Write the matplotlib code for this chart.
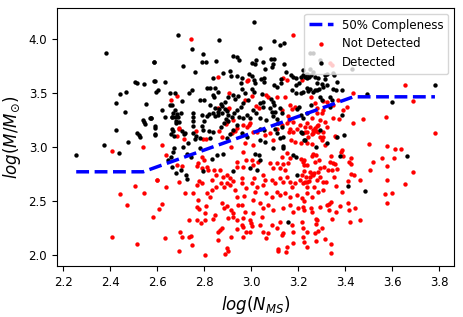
import matplotlib
matplotlib.use("Agg")
import matplotlib.pyplot as plt
import numpy as np

# 50% completeness curve (vertices)
comp_x = [2.255, 2.54, 3.435, 3.782]
comp_y = [2.771, 2.771, 3.466, 3.466]

# detected clusters (log N_MS, log M)
detected = [
    (2.38, 3.87), (2.585, 3.79), (2.504, 3.60), (2.512, 3.595), (2.545, 3.583), (2.587, 3.614),
    (2.594, 3.512), (2.604, 3.528), (2.44, 3.488), (2.467, 3.506), (2.424, 3.405), (2.551, 3.395),
    (2.461, 3.327), (2.572, 3.266), (2.54, 3.25), (2.543, 3.23), (2.546, 3.21), (2.589, 3.18),
    (2.425, 3.16), (2.512, 3.13), (2.523, 3.11), (2.528, 3.09), (2.592, 3.114),
    (2.255, 2.923), (2.374, 3.021), (2.437, 2.947), (2.477, 3.043),
    (3.663, 2.92), (3.414, 2.636), (3.483, 2.59), (3.377, 2.917), (3.324, 3.04), (3.275, 3.003),
    (3.224, 3.062), (3.365, 3.093), (3.393, 3.108), (3.211, 3.139), (3.292, 3.157),
    (2.708, 3.753), (2.79, 3.79), (2.806, 3.787), (2.85, 3.80), (2.909, 3.707), (2.915, 3.66),
    (2.94, 3.66), (2.761, 3.692), (2.836, 3.636), (2.59, 3.614), (2.633, 3.605), (2.653, 3.50),
    (2.736, 3.50), (2.748, 3.525), (2.81, 3.546), (2.824, 3.546), (2.847, 3.546), (2.857, 3.506),
    (2.836, 3.481), (2.841, 3.463), (2.78, 3.435), (2.80, 3.435), (2.90, 3.466), (2.888, 3.42),
    (2.923, 3.484), (2.929, 3.45), (2.943, 3.475), (2.654, 3.392), (2.661, 3.386), (2.621, 3.343),
    (2.575, 3.268), (2.59, 3.194), (2.591, 3.12), (2.751, 3.312), (2.751, 3.275), (2.753, 3.244),
    (2.751, 3.197), (2.79, 3.293), (2.80, 3.244), (2.789, 3.20), (2.796, 3.157), (2.706, 3.145),
    (2.714, 3.118), (2.658, 3.12), (2.672, 3.10), (2.821, 3.151), (2.836, 3.142), (2.824, 3.08),
    (2.782, 3.086), (2.761, 3.071), (2.729, 3.04), (2.711, 3.003), (2.671, 2.994), (2.782, 2.994),
    (2.824, 3.392), (2.87, 3.398), (2.875, 3.38), (2.864, 3.352), (2.847, 3.364), (2.857, 3.327),
    (2.836, 3.312), (2.821, 3.306), (2.81, 3.287), (2.847, 3.287), (2.86, 3.296), (2.874, 3.318),
    (2.887, 3.349), (2.898, 3.336), (2.902, 3.296), (2.892, 3.259), (2.87, 3.188), (2.884, 3.225),
    (2.901, 3.244), (2.917, 3.281), (2.926, 3.318), (2.94, 3.343), (2.949, 3.281), (2.94, 3.201),
    (2.923, 3.157), (2.909, 3.118), (2.898, 3.08),
    (2.675, 3.343), (2.666, 3.312), (2.683, 3.306), (2.70, 3.312), (2.674, 3.275), (2.661, 3.275),
    (2.681, 3.244), (2.694, 3.231), (2.68, 3.22),
    (3.013, 4.164), (2.687, 4.043), (2.863, 3.997), (2.749, 3.905), (2.793, 3.861), (3.038, 3.917),
    (3.095, 3.981), (3.123, 3.95), (3.138, 3.966), (2.586, 3.79), (2.878, 3.688),
    (2.921, 3.843), (2.939, 3.837), (2.946, 3.806), (3.02, 3.803), (3.049, 3.79), (3.083, 3.815),
    (3.098, 3.815), (3.228, 3.651), (3.19, 3.636), (2.675, 3.503), (2.706, 3.426), (2.633, 3.28),
    (2.663, 3.278), (2.688, 3.28), (2.569, 3.266), (2.661, 3.17), (2.665, 3.148), (2.718, 3.126),
    (2.751, 3.126), (2.763, 3.10),
    (3.004, 3.775), (3.016, 3.769), (3.06, 3.728), (3.094, 3.769), (3.09, 3.738), (3.14, 3.769),
    (3.15, 3.692), (2.989, 3.676), (3.002, 3.66), (2.959, 3.636), (2.956, 3.59), (3.013, 3.62),
    (3.016, 3.59), (3.002, 3.543), (3.012, 3.512), (3.041, 3.63), (3.055, 3.636), (3.055, 3.599),
    (3.098, 3.571), (3.109, 3.558), (3.125, 3.63), (3.126, 3.59), (3.168, 3.667), (3.179, 3.654),
    (3.212, 3.648), (3.222, 3.667), (3.236, 3.636), (3.253, 3.67), (3.25, 3.72), (3.204, 3.596),
    (3.19, 3.574), (3.172, 3.528), (3.189, 3.503), (3.212, 3.497), (3.222, 3.509), (3.271, 3.528),
    (3.29, 3.534), (3.306, 3.558), (3.323, 3.673), (2.96, 3.534), (2.972, 3.497), (2.987, 3.435),
    (2.966, 3.405), (2.955, 3.374), (3.044, 3.488), (3.048, 3.42), (3.037, 3.41), (3.051, 3.374),
    (3.085, 3.442), (3.094, 3.42), (3.098, 3.389), (3.08, 3.358), (3.087, 3.327), (3.101, 3.327),
    (3.122, 3.358), (3.129, 3.312), (3.193, 3.349), (3.202, 3.374), (3.254, 3.389), (2.966, 3.266),
    (2.98, 3.296), (2.994, 3.266), (3.008, 3.343), (3.02, 3.312), (3.037, 3.266), (3.061, 3.25),
    (3.094, 3.287), (3.108, 3.256), (3.115, 3.22), (3.132, 3.188), (3.037, 3.17), (3.054, 3.157),
    (3.037, 3.065), (3.058, 3.049), (3.101, 3.17), (3.111, 3.126), (3.122, 3.08), (2.959, 3.133),
    (2.98, 3.095), (3.136, 3.095), (3.136, 3.009), (3.214, 3.126), (3.228, 3.065),
    (3.782, 3.574), (3.598, 3.414), (3.494, 3.488), (3.427, 3.728), (3.25, 3.868), (3.261, 3.873),
    (3.292, 3.806), (3.221, 3.713), (3.236, 3.682), (3.247, 3.651), (3.264, 3.697), (3.271, 3.651),
    (3.285, 3.636), (3.313, 3.667), (3.316, 3.63), (3.346, 3.688), (3.352, 3.667), (3.278, 3.59),
    (3.30, 3.583), (3.321, 3.574), (3.363, 3.605), (3.236, 3.55), (3.25, 3.54), (3.243, 3.521),
    (3.264, 3.512), (3.281, 3.528), (3.292, 3.466), (3.30, 3.435), (3.335, 3.466), (3.342, 3.435),
    (3.349, 3.543), (3.36, 3.528), (3.385, 3.528), (3.385, 3.296), (3.335, 3.374), (3.236, 3.312),
    (3.21, 3.30), (3.22, 3.27),
    (2.668, 2.957), (2.657, 2.91), (2.647, 2.88), (2.725, 2.935), (2.742, 2.91), (2.663, 2.818),
    (2.68, 2.762), (2.70, 2.787), (2.722, 2.741), (2.728, 2.70), (2.796, 2.781), (2.831, 2.886),
    (2.853, 2.926), (2.878, 2.935), (2.921, 2.781),
    (3.016, 2.935), (3.031, 2.926), (3.037, 2.88), (2.994, 2.803), (3.025, 2.787), (3.094, 2.99),
    (3.136, 2.99), (3.179, 2.926), (3.19, 2.905), (3.193, 2.741), (3.155, 2.309),
]

# non-detected clusters (log N_MS, log M)
not_detected = [
    (2.407, 2.966), (2.539, 2.997), (2.506, 2.642), (2.599, 2.694), (2.44, 2.568), (2.545, 2.577),
    (2.47, 2.466), (2.58, 2.355), (2.609, 2.423), (2.406, 2.169), (2.512, 2.102),
    (2.692, 2.04), (2.804, 2.003), (2.887, 2.006), (2.902, 2.04), (3.114, 2.04), (3.149, 2.03),
    (3.339, 2.02),
    (3.782, 3.13), (3.501, 3.025), (3.576, 3.006), (3.61, 2.981), (3.637, 2.981), (3.557, 2.90),
    (3.608, 2.895), (3.518, 2.864), (3.577, 2.827), (3.505, 2.787), (3.688, 2.769), (3.576, 2.698),
    (3.655, 2.66), (3.461, 2.694), (3.568, 2.562), (3.598, 2.571), (3.577, 2.484), (3.413, 2.688),
    (3.437, 2.74), (3.424, 2.753), (3.387, 2.58), (3.413, 2.479), (3.416, 2.417), (3.442, 2.438),
    (3.461, 2.324), (3.419, 2.306), (3.376, 2.45), (3.362, 2.395), (3.342, 2.33), (3.339, 2.488),
    (3.331, 2.472), (3.321, 2.463), (3.331, 2.42), (3.277, 2.33), (3.274, 2.284), (3.284, 2.225),
    (3.314, 2.145), (3.338, 2.105), (3.275, 2.127), (3.223, 2.123), (3.236, 2.077), (3.221, 2.253),
    (3.224, 2.42), (3.254, 2.435), (3.257, 2.54), (3.223, 2.503), (3.283, 2.583), (3.267, 2.627),
    (3.36, 2.642), (3.317, 2.68), (3.351, 2.72), (3.292, 2.725), (3.342, 2.787), (3.326, 2.79),
    (3.363, 2.80), (3.309, 2.818), (3.275, 2.926), (3.261, 2.932), (3.289, 2.88), (3.339, 2.92),
    (3.349, 2.852), (3.335, 2.86), (3.357, 2.84), (3.38, 2.954), (3.385, 2.972), (3.39, 2.915),
    (3.418, 2.858), (3.424, 2.843), (3.423, 2.90), (3.259, 3.025), (3.238, 3.034), (3.21, 3.034),
    (3.36, 3.09), (3.355, 3.10),
    (3.285, 2.769), (3.267, 2.762), (3.257, 2.747), (3.25, 2.772), (3.238, 2.679), (3.246, 2.688),
    (3.226, 2.88), (3.223, 2.833), (3.226, 2.778), (3.229, 2.673), (3.21, 2.886), (3.219, 2.858),
    (3.215, 2.744), (3.233, 2.719), (3.22, 3.126), (3.264, 3.133), (3.257, 3.12),
    (2.685, 3.475), (2.857, 3.648), (2.906, 3.503), (2.90, 3.352), (2.895, 3.229), (2.691, 3.17),
    (2.62, 3.021), (2.714, 3.071), (2.763, 3.148), (2.863, 3.148), (2.877, 3.095), (2.918, 3.13),
    (2.93, 3.15), (2.796, 3.071), (2.807, 3.071), (2.915, 3.003),
    (2.742, 4.00), (3.177, 4.04), (2.985, 3.62), (3.134, 3.645), (3.151, 3.62), (2.657, 3.435),
    (2.694, 3.176), (2.685, 3.10),
    (2.98, 3.188), (2.994, 3.22), (3.023, 3.142), (3.058, 3.111), (3.08, 3.126), (3.108, 3.17),
    (3.129, 3.201), (3.151, 3.22), (3.165, 3.17), (3.179, 3.142), (3.193, 3.17), (3.207, 3.201),
    (3.228, 3.188), (3.236, 3.142), (3.129, 3.343), (3.186, 3.374), (3.108, 3.466), (3.143, 3.466),
    (3.065, 3.481), (2.86, 3.358), (2.905, 3.358), (2.973, 3.435), (3.02, 3.38), (3.072, 3.466),
    (2.923, 3.25), (2.94, 3.179), (2.891, 3.213),
    (2.98, 3.614), (3.165, 3.389), (3.172, 3.352), (3.254, 3.466), (3.271, 3.405), (3.281, 3.358),
    (3.30, 3.312), (3.324, 3.42), (3.002, 3.472), (3.033, 3.358), (2.963, 3.201), (2.991, 3.201),
    (3.155, 3.287), (3.162, 3.25), (3.179, 3.234), (3.008, 3.142), (3.257, 3.266), (3.292, 3.25),
    (3.278, 3.20), (3.264, 3.157), (3.285, 3.142), (3.306, 3.095), (3.313, 3.234), (3.323, 3.188),
    (3.306, 3.142), (2.973, 3.034), (3.008, 3.019), (3.094, 3.065), (3.162, 3.142), (3.168, 3.065),
    (3.186, 3.049), (3.30, 3.065), (3.313, 3.019),
    (3.335, 3.775), (3.342, 3.759), (3.215, 3.62), (3.306, 3.426), (3.434, 3.503), (3.37, 3.435),
    (3.349, 3.389), (3.406, 3.374), (3.392, 3.343), (3.654, 3.574), (3.69, 3.429), (3.573, 3.281),
    (3.477, 3.259), (3.434, 3.225), (3.375, 3.256), (3.349, 3.266), (3.275, 3.151), (3.306, 3.343),
    (3.278, 3.312), (3.236, 3.22), (3.25, 3.188), (3.271, 3.173), (3.285, 3.204), (3.228, 3.142),
    (3.292, 3.095), (3.243, 3.095),
    (2.637, 2.926), (2.597, 2.694), (2.636, 2.627), (2.619, 2.469), (2.633, 2.154), (2.697, 2.216),
    (2.706, 2.17), (2.742, 2.176), (2.718, 2.571), (2.753, 2.571), (2.768, 2.648), (2.779, 2.685),
    (2.789, 2.664), (2.685, 2.833), (2.704, 2.824), (2.694, 2.679), (2.768, 2.824), (2.789, 2.803),
    (2.81, 2.818), (2.817, 2.787), (2.774, 2.509), (2.768, 2.447), (2.779, 2.423), (2.807, 2.454),
    (2.803, 2.386), (2.768, 2.324), (2.736, 2.324), (2.836, 2.33), (2.846, 2.37), (2.86, 2.216),
    (2.867, 2.231), (2.902, 2.34), (2.921, 2.355), (2.941, 2.324), (2.914, 2.417), (2.924, 2.386),
    (2.874, 2.479), (2.884, 2.432), (2.895, 2.454), (2.85, 2.632), (2.87, 2.664), (2.884, 2.632),
    (2.898, 2.669), (2.909, 2.648), (2.93, 2.602), (2.867, 2.787), (2.878, 2.725), (2.895, 2.741),
    (2.909, 2.71), (2.921, 2.688), (2.831, 2.694), (2.85, 2.741), (2.841, 2.787), (2.789, 2.91),
    (2.799, 2.88), (2.775, 2.849), (2.938, 2.864), (2.941, 2.818), (2.81, 2.571), (2.831, 2.602),
    (2.824, 2.54), (2.938, 2.54), (2.945, 2.463), (2.874, 2.247),
    (2.967, 2.957), (2.977, 2.88), (2.963, 2.818), (2.959, 2.71), (2.959, 2.664), (2.977, 2.618),
    (2.969, 2.546), (2.959, 2.463), (2.973, 2.401), (2.967, 2.34), (2.959, 2.278), (2.977, 2.216),
    (2.963, 2.164), (3.002, 2.88), (3.008, 2.833), (3.03, 2.864), (3.012, 2.71), (3.002, 2.664),
    (3.023, 2.632), (3.016, 2.586), (3.051, 2.741), (3.058, 2.694), (3.048, 2.648), (3.08, 2.849),
    (3.094, 2.803), (3.108, 2.849), (3.122, 2.803), (3.134, 2.843), (3.143, 2.787), (3.157, 2.849),
    (3.165, 2.895), (3.151, 2.942), (3.129, 2.91), (3.236, 2.833), (3.257, 2.917), (3.271, 2.864),
    (3.292, 2.803), (3.087, 2.694), (3.101, 2.664), (3.122, 2.71), (3.136, 2.679), (3.151, 2.725),
    (3.165, 2.679), (3.172, 2.632), (3.186, 2.664), (3.207, 2.694), (3.221, 2.664), (3.236, 2.632),
    (3.25, 2.725), (3.264, 2.741), (3.278, 2.694), (3.306, 2.679), (3.065, 2.571), (3.087, 2.54),
    (3.108, 2.586), (3.122, 2.556), (3.143, 2.571), (3.165, 2.54), (3.193, 2.556), (3.214, 2.525),
    (3.236, 2.571), (3.306, 2.602), (3.008, 2.509), (3.037, 2.479), (3.051, 2.432), (3.008, 2.386),
    (3.044, 2.355), (3.072, 2.463), (3.094, 2.417), (3.136, 2.432), (3.165, 2.463), (3.179, 2.401),
    (3.2, 2.432), (3.221, 2.447), (3.257, 2.401), (3.292, 2.447), (2.994, 2.324), (3.002, 2.269),
    (2.994, 2.216), (3.037, 2.278), (3.051, 2.216), (3.072, 2.20), (3.087, 2.278), (3.108, 2.247),
    (3.122, 2.309), (3.172, 2.278), (3.179, 2.216), (3.214, 2.309), (3.236, 2.216), (3.278, 2.324),
    (3.30, 2.247), (3.271, 2.20), (3.221, 2.17), (3.065, 2.154), (3.129, 2.185),
    (2.736, 2.164), (2.746, 2.093), (2.785, 2.293), (2.803, 2.324), (2.86, 2.139), (2.895, 2.062),
    (2.914, 2.164), (2.938, 2.238), (2.966, 2.262), (2.997, 2.293), (3.112, 2.053), (3.151, 2.077),
    (3.179, 2.108), (3.136, 2.20),
]

det = np.array(detected)
nd = np.array(not_detected)

fig = plt.figure(figsize=(4.63, 3.17), dpi=100)
ax = fig.add_axes([0.123, 0.161, 0.858, 0.814])

ax.plot(comp_x, comp_y, "--", color="blue", lw=2.5, zorder=3, label="50% Compleness")
ax.scatter(nd[:, 0], nd[:, 1], s=10, color="red", linewidths=0, label="Not Detected")
ax.scatter(det[:, 0], det[:, 1], s=10, color="black", linewidths=0, label="Detected")

ax.set_xlim(2.173, 3.864)
ax.set_ylim(1.898, 4.29)
ax.set_xticks(np.arange(2.2, 3.81, 0.2))
ax.set_yticks([2.0, 2.5, 3.0, 3.5, 4.0])
ax.tick_params(labelsize=8.5)
ax.set_xlabel(r"$log(N_{MS})$", fontsize=12)
ax.set_ylabel(r"$log(M/M_{\odot})$", fontsize=12)
ax.legend(loc="upper right", fontsize=8.5)

fig.savefig("out.png", dpi=100)
